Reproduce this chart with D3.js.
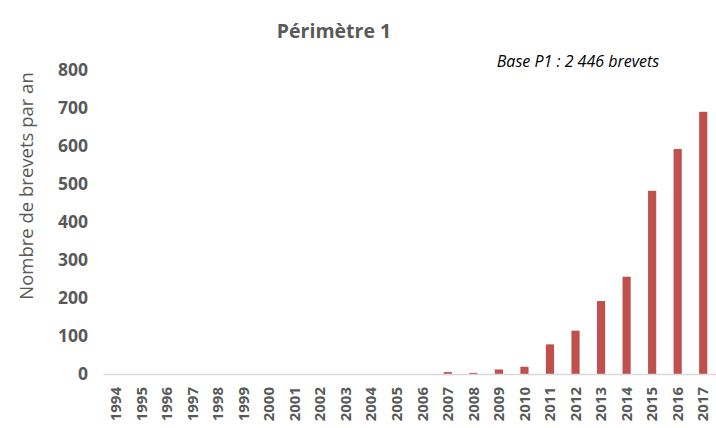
<!DOCTYPE html>
<html lang="fr">
<head>
<meta charset="UTF-8" />
<title>Périmètre 1</title>
<script src="https://d3js.org/d3.v7.min.js"></script>
<style>
  body { margin: 0; background: #fff; }
  text { font-family: "Open Sans", sans-serif; }
</style>
</head>
<body>
<svg id="chart"></svg>
<script>
  var years = ["1994", "1995", "1996", "1997", "1998", "1999", "2000", "2001",
    "2002", "2003", "2004", "2005", "2006", "2007", "2008", "2009", "2010",
    "2011", "2012", "2013", "2014", "2015", "2016", "2017"];
  var brevets = [0, 0, 0, 0, 0, 0, 0, 0, 0, 0, 0, 0, 0, 5, 3, 12, 19,
    78, 114, 192, 256, 482, 592, 690];
  var yTicks = [0, 100, 200, 300, 400, 500, 600, 700, 800];

  var width = 716, height = 428;
  var margin = { top: 70, right: 0, bottom: 54, left: 103 };

  var svg = d3.select("#chart")
    .attr("width", width)
    .attr("height", height);

  var x = d3.scaleBand()
    .domain(years)
    .range([margin.left, width - margin.right])
    .paddingInner(0.68)
    .paddingOuter(0.34);

  var y = d3.scaleLinear()
    .domain([0, 800])
    .range([height - margin.bottom, margin.top]);

  // titre
  svg.append("text")
    .attr("x", 334)
    .attr("y", 38)
    .attr("text-anchor", "middle")
    .attr("font-size", 19.5)
    .attr("font-weight", "bold")
    .attr("fill", "#595959")
    .text("Périmètre 1");

  svg.append("text")
    .attr("x", 578)
    .attr("y", 67)
    .attr("text-anchor", "middle")
    .attr("font-size", 16)
    .attr("font-style", "italic")
    .attr("fill", "#000")
    .text("Base P1 : 2 446 brevets");

  // barres
  svg.selectAll("rect.bar")
    .data(brevets)
    .enter()
    .append("rect")
    .attr("class", "bar")
    .attr("x", (d, i) => x(years[i]))
    .attr("y", (d) => y(d))
    .attr("width", x.bandwidth())
    .attr("height", (d) => y(0) - y(d))
    .attr("fill", "#C0504D");

  // axe x
  var xAxis = svg.append("g")
    .attr("transform", `translate(0,${y(0)})`)
    .call(d3.axisBottom(x).tickSize(0).tickPadding(0));
  xAxis.select(".domain").attr("stroke", "#d9d9d9").attr("stroke-width", 1.5);
  xAxis.selectAll("text")
    .attr("transform", "rotate(-90)")
    .attr("x", -13)
    .attr("y", 0)
    .attr("dy", "0.35em")
    .attr("text-anchor", "end")
    .attr("font-size", 15)
    .attr("font-weight", "bold")
    .attr("font-family", "'Open Sans', sans-serif")
    .attr("fill", "#595959");

  // axe y
  var yAxis = svg.append("g")
    .attr("transform", `translate(${margin.left},0)`)
    .call(d3.axisLeft(y).tickValues(yTicks).tickSize(0).tickPadding(15));
  yAxis.select(".domain").remove();
  yAxis.selectAll("text")
    .attr("font-size", 17.5)
    .attr("font-weight", "bold")
    .attr("font-family", "'Open Sans', sans-serif")
    .attr("fill", "#595959");

  svg.append("text")
    .attr("transform", "translate(27,186) rotate(-90)")
    .attr("text-anchor", "middle")
    .attr("dy", "0.35em")
    .attr("font-size", 18.5)
    .attr("fill", "#595959")
    .text("Nombre de brevets par an");
</script>
</body>
</html>
